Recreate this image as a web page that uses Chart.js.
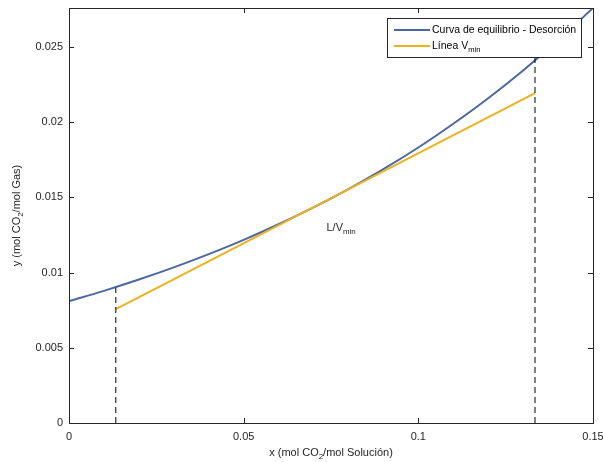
<!DOCTYPE html>
<html>
<head>
<meta charset="utf-8">
<script src="https://cdn.jsdelivr.net/npm/chart.js@4"></script>
<style>
  html, body { margin: 0; padding: 0; background: #fff; }
  #wrap { width: 603px; height: 462px; }
</style>
</head>
<body>
<div id="wrap"><canvas id="chart"></canvas></div>
<script>
// equilibrium curve
const xCurve = [0, 0.01, 0.02, 0.03, 0.04, 0.05, 0.06, 0.07, 0.08, 0.09, 0.10, 0.11, 0.12, 0.13, 0.14, 0.15];
const yCurve = [0.00810, 0.00879, 0.00954, 0.01035, 0.01123, 0.01218, 0.01322, 0.01434, 0.01556, 0.01688, 0.01832, 0.01990, 0.02160, 0.02345, 0.02545, 0.02760];
// L/V min operating line
const xVmin = [0.0134, 0.1334];
const yVmin = [0.00758, 0.02194];
// dashed verticals: x position, top y
const xDash = [0.0134, 0.1334];
const yDashTop = [0.0090, 0.0243];
// ticks
const xTicks = [0, 0.05, 0.1, 0.15];
const yTicks = [0, 0.005, 0.01, 0.015, 0.02, 0.025];

const BLUE = '#4c67a1';
const ORANGE = '#edb120';
const AXIS = '#262626';
const FONT = '"Liberation Sans", Arial, Helvetica, sans-serif';

function pts(xs, ys) { return xs.map((x, i) => ({ x: x, y: ys[i] })); }

// text with an optional subscript part
function subText(ctx, parts, x, y, size, align) {
  let w = 0;
  parts.forEach(p => {
    ctx.font = (p.sub ? size * 0.72 : size) + 'px ' + FONT;
    w += ctx.measureText(p.t).width;
  });
  let cx = align === 'center' ? x - w / 2 : x;
  parts.forEach(p => {
    ctx.font = (p.sub ? size * 0.72 : size) + 'px ' + FONT;
    ctx.textAlign = 'left';
    ctx.textBaseline = 'middle';
    ctx.fillText(p.t, cx, p.sub ? y + size * 0.35 : y);
    cx += ctx.measureText(p.t).width;
  });
}

const decor = {
  id: 'decor',
  afterDraw(chart) {
    const ctx = chart.ctx;
    const a = chart.chartArea;
    const xs = chart.scales.x, ys = chart.scales.y;
    ctx.save();
    // box
    ctx.strokeStyle = AXIS;
    ctx.lineWidth = 1;
    ctx.strokeRect(Math.round(a.left) + 0.5, Math.round(a.top) + 0.5,
      Math.round(a.right - a.left), Math.round(a.bottom - a.top));
    // inward ticks
    ctx.beginPath();
    xTicks.forEach(v => {
      const px = Math.round(xs.getPixelForValue(v)) + 0.5;
      ctx.moveTo(px, a.bottom); ctx.lineTo(px, a.bottom - 5);
      ctx.moveTo(px, a.top); ctx.lineTo(px, a.top + 5);
    });
    yTicks.forEach(v => {
      const py = Math.round(ys.getPixelForValue(v)) + 0.5;
      ctx.moveTo(a.left, py); ctx.lineTo(a.left + 5, py);
      ctx.moveTo(a.right, py); ctx.lineTo(a.right - 5, py);
    });
    ctx.stroke();

    ctx.fillStyle = AXIS;
    // x title
    subText(ctx, [{ t: 'x (mol CO' }, { t: '2', sub: true }, { t: '/mol Solución)' }],
      (a.left + a.right) / 2, 453, 11, 'center');
    // y title
    ctx.save();
    ctx.translate(17, (a.top + a.bottom) / 2);
    ctx.rotate(-Math.PI / 2);
    subText(ctx, [{ t: 'y (mol CO' }, { t: '2', sub: true }, { t: '/mol Gas)' }], 0, 0, 11, 'center');
    ctx.restore();

    // annotation
    subText(ctx, [{ t: 'L/V' }, { t: 'min', sub: true }],
      xs.getPixelForValue(0.0737), ys.getPixelForValue(0.0130), 11, 'left');

    // legend
    const lx = 387.5, ly = 18.5, lw = 194, lh = 39;
    ctx.fillStyle = '#fff';
    ctx.fillRect(lx, ly, lw, lh);
    ctx.strokeStyle = AXIS;
    ctx.strokeRect(lx, ly, lw, lh);
    ctx.lineWidth = 2;
    ctx.strokeStyle = BLUE;
    ctx.beginPath(); ctx.moveTo(394, 30); ctx.lineTo(430, 30); ctx.stroke();
    ctx.strokeStyle = ORANGE;
    ctx.beginPath(); ctx.moveTo(394, 46); ctx.lineTo(430, 46); ctx.stroke();
    ctx.fillStyle = '#000';
    subText(ctx, [{ t: 'Curva de equilibrio - Desorción' }], 432, 30, 10.5, 'left');
    subText(ctx, [{ t: 'Línea V' }, { t: 'min', sub: true }], 432, 46, 10.5, 'left');
    ctx.restore();
  }
};

new Chart(document.getElementById('chart'), {
  type: 'scatter',
  data: {
    datasets: [
      {
        label: 'dash1',
        data: [{ x: xDash[0], y: 0 }, { x: xDash[0], y: yDashTop[0] }],
        showLine: true, borderColor: '#000', borderWidth: 1, borderDash: [6, 4],
        pointRadius: 0
      },
      {
        label: 'dash2',
        data: [{ x: xDash[1], y: 0 }, { x: xDash[1], y: yDashTop[1] }],
        showLine: true, borderColor: '#000', borderWidth: 1, borderDash: [6, 4],
        pointRadius: 0
      },
      {
        label: 'Línea Vmin',
        data: pts(xVmin, yVmin),
        showLine: true, borderColor: ORANGE, borderWidth: 2, pointRadius: 0
      },
      {
        label: 'Curva de equilibrio - Desorción',
        data: pts(xCurve, yCurve),
        showLine: true, borderColor: BLUE, borderWidth: 2, pointRadius: 0,
        cubicInterpolationMode: 'monotone'
      }
    ]
  },
  options: {
    responsive: true,
    maintainAspectRatio: false,
    animation: false,
    layout: { padding: { top: 8, right: 10, left: 0, bottom: 0 } },
    plugins: { legend: { display: false }, tooltip: { enabled: false } },
    scales: {
      x: {
        type: 'linear', min: 0, max: 0.15,
        grid: { display: false, drawTicks: false },
        border: { display: false },
        afterBuildTicks: s => { s.ticks = xTicks.map(v => ({ value: v })); },
        afterFit: s => { s.height = 39; s.paddingLeft = 0; s.paddingRight = 0; },
        ticks: {
          color: AXIS, padding: 7, maxRotation: 0,
          font: { size: 11, family: FONT },
          callback: v => String(+v.toFixed(3))
        }
      },
      y: {
        type: 'linear', min: 0, max: 0.0276,
        grid: { display: false, drawTicks: false },
        border: { display: false },
        afterBuildTicks: s => { s.ticks = yTicks.map(v => ({ value: v })); },
        afterFit: s => { s.width = 69; s.paddingTop = 0; s.paddingBottom = 0; },
        ticks: {
          color: AXIS, padding: 6,
          font: { size: 11, family: FONT },
          callback: v => String(+v.toFixed(4))
        }
      }
    }
  },
  plugins: [decor]
});
</script>
</body>
</html>
